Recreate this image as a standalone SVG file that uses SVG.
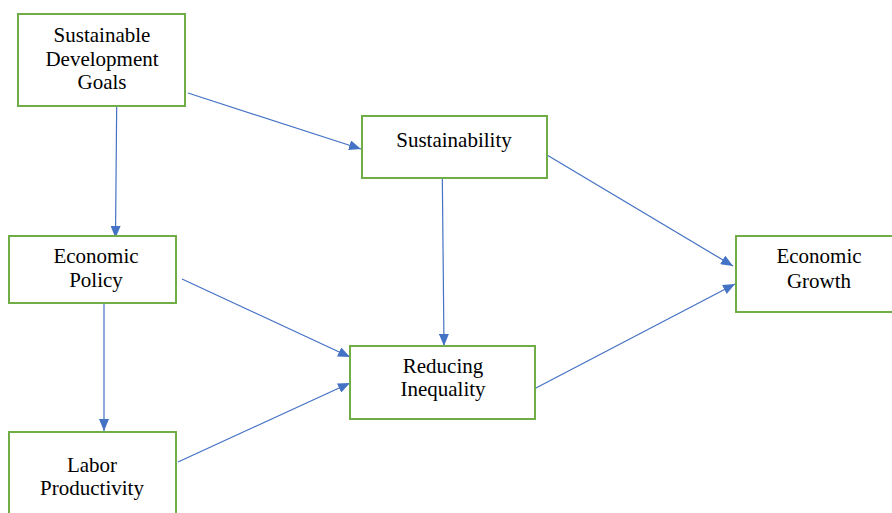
<svg xmlns="http://www.w3.org/2000/svg" width="892" height="513" viewBox="0 0 892 513">
  <defs>
    <style>
      .box { fill: #ffffff; stroke: #70AD47; stroke-width: 2; }
      .lbl { font-family: "Liberation Serif", "Times New Roman", serif; font-size: 21px; fill: #000000; text-anchor: middle; }
      .edge { stroke: #4472C4; stroke-width: 1.2; fill: none; marker-end: url(#arrow); }
    </style>
    <marker id="arrow" markerUnits="userSpaceOnUse" markerWidth="12" markerHeight="10" refX="12" refY="5" orient="auto">
      <path d="M0,0 L12,5 L0,10 Z" fill="#4472C4"/>
    </marker>
  </defs>
  <rect width="892" height="513" fill="#ffffff"/>

  <g id="connectors">
    <line class="edge" x1="116.7" y1="104" x2="115.5" y2="238"/>
    <line class="edge" x1="188" y1="93" x2="361" y2="149"/>
    <line class="edge" x1="442.3" y1="176" x2="444" y2="346"/>
    <line class="edge" x1="547" y1="155" x2="733" y2="266"/>
    <line class="edge" x1="104" y1="304" x2="104" y2="431"/>
    <line class="edge" x1="182" y1="279" x2="350" y2="357"/>
    <line class="edge" x1="178" y1="462" x2="350" y2="383"/>
    <line class="edge" x1="534" y1="389" x2="735" y2="284"/>
  </g>

  <g id="sdg">
    <rect class="box" x="18" y="14" width="167" height="92"/>
    <text class="lbl" x="102" y="42">Sustainable</text>
    <text class="lbl" x="102" y="65.5">Development</text>
    <text class="lbl" x="102" y="89">Goals</text>
  </g>

  <g id="sustainability">
    <rect class="box" x="362" y="116" width="185" height="62"/>
    <text class="lbl" x="454" y="147">Sustainability</text>
  </g>

  <g id="economic-policy">
    <rect class="box" x="9" y="236" width="167" height="67"/>
    <text class="lbl" x="96" y="263">Economic</text>
    <text class="lbl" x="96" y="287">Policy</text>
  </g>

  <g id="reducing-inequality">
    <rect class="box" x="350" y="346" width="185" height="73"/>
    <text class="lbl" x="443" y="373">Reducing</text>
    <text class="lbl" x="443" y="396">Inequality</text>
  </g>

  <g id="economic-growth">
    <rect class="box" x="736" y="236" width="160" height="76"/>
    <text class="lbl" x="819" y="263">Economic</text>
    <text class="lbl" x="819" y="287.5">Growth</text>
  </g>

  <g id="labor-productivity">
    <rect class="box" x="9" y="432" width="167" height="90"/>
    <text class="lbl" x="92" y="472">Labor</text>
    <text class="lbl" x="92" y="495">Productivity</text>
  </g>
</svg>
